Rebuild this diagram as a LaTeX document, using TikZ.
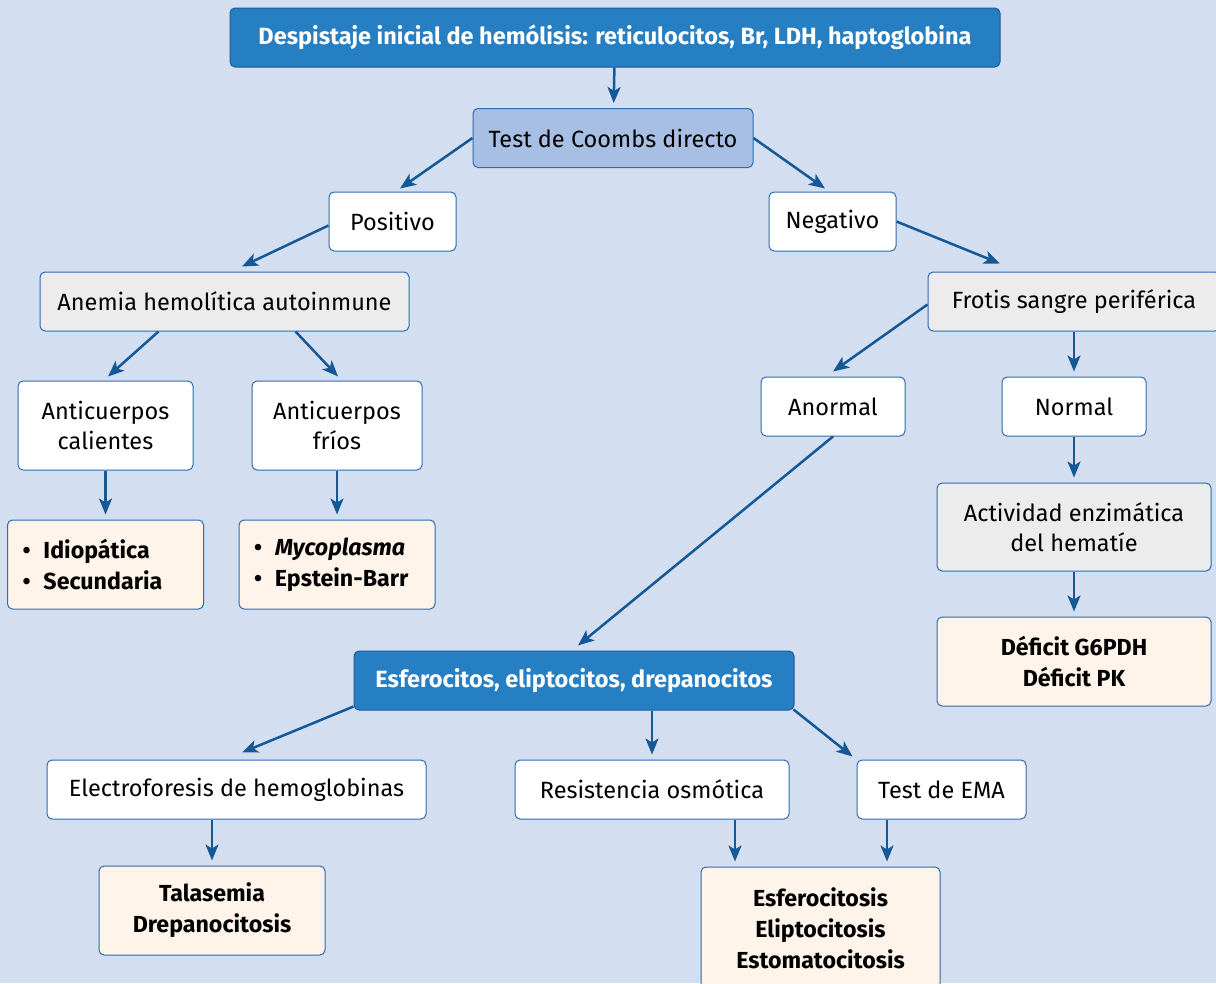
\documentclass[tikz,border=0pt]{standalone}
\usepackage{fontspec}
\setmainfont{Fira Sans}
\usetikzlibrary{
    arrows.meta,
    calc,
    positioning
}
\definecolor{fondo}{RGB}{211,222,240}
\definecolor{azul}{RGB}{38,126,195}
\definecolor{azulborde}{RGB}{26,92,154}
\definecolor{celeste}{RGB}{167,191,227}
\definecolor{gris}{RGB}{236,236,236}
\definecolor{crema}{RGB}{254,244,234}
\definecolor{borde}{RGB}{45,108,176}
\definecolor{flecha}{RGB}{20,88,150}
\newcommand{\punto}{\makebox[21pt][l]{\textbullet}}

\begin{document}
\begin{tikzpicture}[x=1pt, y=-1pt,
    caja/.style={draw=borde, line width=1pt, rounded corners=5pt, fill=white,
        align=center, inner sep=0pt, font=\fontsize{23.5}{30}\selectfont},
    titulo/.style={caja, draw=azulborde, fill=azul, text=white, font=\fontsize{23.5}{30}\selectfont\bfseries},
    clara/.style={caja, fill=celeste},
    grisbox/.style={caja, fill=gris},
    final/.style={caja, fill=crema, font=\fontsize{23.2}{31}\selectfont\bfseries},
    lista/.style={final, align=left, inner xsep=15pt, text width=#1},
    flechas/.style={draw=flecha, line width=2.5pt, shorten >=5pt,
        -{Stealth[length=16pt, width=13pt, inset=4pt]}},
    oblicua/.style={flechas, shorten >=0pt}
]
\useasboundingbox (0,0) rectangle (1216,983);
\fill[fondo] (0,0) rectangle (1216,983);

\node[titulo, minimum width=770, minimum height=59] (inicio) at (615,37.5)
    {Despistaje inicial de hemólisis: reticulocitos, Br, LDH, haptoglobina};
\node[clara, minimum width=280, minimum height=59] (coombs) at (613,138) {Test de Coombs directo};
\node[caja, minimum width=127, minimum height=59] (positivo) at (392.5,221.5) {Positivo};
\node[caja, minimum width=127, minimum height=59] (negativo) at (832.5,221.5) {Negativo};
\node[grisbox, minimum width=369, minimum height=59] (ahai) at (224.5,301.5) {Anemia hemolítica autoinmune};
\node[grisbox, minimum width=292, minimum height=59] (frotis) at (1074,301.5) {Frotis sangre periférica};
\node[caja, minimum width=175, minimum height=89] (calientes) at (105.5,425.5) {Anticuerpos\\calientes};
\node[caja, minimum width=170, minimum height=89] (frios) at (337,425.5) {Anticuerpos\\fríos};
\node[caja, minimum width=144, minimum height=59] (anormal) at (833,406.5) {Anormal};
\node[caja, minimum width=144, minimum height=59] (normal) at (1074,406.5) {Normal};
\node[lista=166pt, minimum height=89] (idio) at (105.5,564.5)
    {\punto Idiopática\\\punto Secundaria};
\node[lista=166pt, minimum height=89] (myco) at (337,564.5)
    {\punto\textit{Mycoplasma}\\\punto Epstein-Barr};
\node[grisbox, minimum width=274, minimum height=88] (enzima) at (1074,527)
    {Actividad enzimática\\del hematíe};
\node[final, minimum width=274, minimum height=89] (deficit) at (1074,661.5)
    {Déficit G6PDH\\Déficit PK};
\node[titulo, minimum width=440, minimum height=59] (esfero) at (574,680.5)
    {Esferocitos, eliptocitos, drepanocitos};
\node[caja, minimum width=379, minimum height=59] (electro) at (236.5,789.5) {Electroforesis de hemoglobinas};
\node[caja, minimum width=274, minimum height=59] (resist) at (652,789.5) {Resistencia osmótica};
\node[caja, minimum width=169, minimum height=59] (ema) at (941.5,789.5) {Test de EMA};
\node[final, minimum width=226, minimum height=89] (talasemia) at (212,910.5)
    {Talasemia\\Drepanocitosis};
\node[final, minimum width=239, minimum height=123] (esferosis) at (820.5,928.5)
    {Esferocitosis\\Eliptocitosis\\Estomatocitosis};

\coordinate (r1) at ($(esferosis.north)+(-85.5,0)$);
\coordinate (r2) at ($(esferosis.north)+(66.5,0)$);

\path
    (inicio) edge[flechas] (coombs)
    (coombs.west) edge[oblicua] ([xshift=7.5pt, yshift=3pt]positivo.north)
    (coombs.east) edge[oblicua] ([xshift=-7.5pt, yshift=3pt]negativo.north)
    ([yshift=-4pt]positivo.west) edge[oblicua] ([xshift=17.5pt, yshift=5pt]ahai.north)
    (negativo.east) edge[oblicua] ([xshift=-74pt, yshift=8pt]frotis.north)
    ([xshift=-66pt]ahai.south) edge[oblicua] ([xshift=2.5pt, yshift=4pt]calientes.north)
    ([xshift=71pt]ahai.south) edge[oblicua] ([xshift=1pt, yshift=4pt]frios.north)
    ([yshift=-3pt]frotis.west) edge[oblicua] ([yshift=5pt]anormal.north)
    (normal.north |- frotis.south) edge[flechas] (normal.north)
    (calientes) edge[flechas] (idio)
    (frios) edge[flechas] (myco)
    (anormal.south) edge[oblicua] ([xshift=4pt, yshift=5pt]esfero.north)
    (normal) edge[flechas] (enzima)
    (enzima) edge[flechas] (deficit)
    ([yshift=4pt]esfero.south west) edge[oblicua] ([xshift=5.5pt, yshift=7pt]electro.north)
    (resist.north |- esfero.south) edge[flechas] (resist.north)
    ([xshift=-1pt, yshift=1pt]esfero.south east) edge[oblicua] ([xshift=-4pt, yshift=3pt]ema.north west)
    (talasemia.north |- electro.south) edge[flechas] (talasemia.north)
    (r1 |- resist.south) edge[flechas] (r1)
    (r2 |- ema.south) edge[flechas] (r2);
\end{tikzpicture}
\end{document}
